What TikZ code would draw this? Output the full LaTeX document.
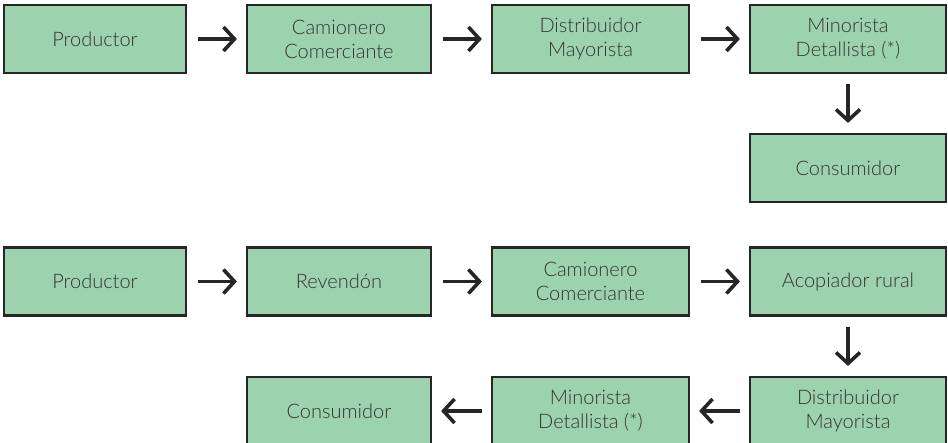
\documentclass[tikz,border=0pt]{standalone}
\usepackage{fontspec}
\setmainfont{Lato}[UprightFont=* Light]
\usetikzlibrary{arrows.meta}
\definecolor{boxfill}{HTML}{9CD3AE}
\definecolor{boxline}{HTML}{262626}
\definecolor{txt}{HTML}{333333}
\tikzset{
  x=1pt, y=-1pt,
  stage/.style={draw=boxline, line width=2.2pt, fill=boxfill, text=txt,
    minimum height=68pt, inner sep=0pt, align=center,
    font=\fontsize{20}{24}\selectfont},
  flow/.style={line width=3.6pt, draw=boxline,
    -{Straight Barb[length=11pt,width=24pt]}},
  hgap/.style={shorten <=11pt, shorten >=9pt},
  vgap/.style={shorten <=10pt, shorten >=10pt}
}
\begin{document}
\begin{tikzpicture}
\useasboundingbox (0,0) rectangle (948,442);
% first chain
\node[stage, minimum width=182pt] (a1) at (95,39) {Productor};
\node[stage, minimum width=184pt] (a2) at (339,39) {Camionero\\Comerciante};
\node[stage, minimum width=197pt] (a3) at (590.5,39) {Distribuidor\\Mayorista};
\node[stage, minimum width=196pt] (a4) at (848,39) {Minorista\\Detallista (*)};
\node[stage, minimum width=196pt] (a5) at (848,168) {Consumidor};
\draw[flow, hgap] (a1) -- (a2);
\draw[flow, hgap] (a2) -- (a3);
\draw[flow, hgap] (a3) -- (a4);
\draw[flow, vgap] (a4) -- (a5);
% second chain
\node[stage, minimum width=182pt] (b1) at (95,281.5) {Productor};
\node[stage, minimum width=184pt] (b2) at (339,281.5) {Revendón};
\node[stage, minimum width=197pt] (b3) at (590.5,281.5) {Camionero\\Comerciante};
\node[stage, minimum width=196pt] (b4) at (848,281.5) {Acopiador rural};
\node[stage, minimum width=196pt] (b5) at (848,411) {Distribuidor\\Mayorista};
\node[stage, minimum width=197pt] (b6) at (590.5,411) {Minorista\\Detallista (*)};
\node[stage, minimum width=184pt] (b7) at (339,411) {Consumidor};
\draw[flow, hgap] (b1) -- (b2);
\draw[flow, hgap] (b2) -- (b3);
\draw[flow, hgap] (b3) -- (b4);
\draw[flow, vgap] (b4) -- (b5);
\draw[flow, shorten <=9pt, shorten >=9pt] (b5) -- (b6);
\draw[flow, shorten <=9pt, shorten >=9pt] (b6) -- (b7);
\end{tikzpicture}
\end{document}
